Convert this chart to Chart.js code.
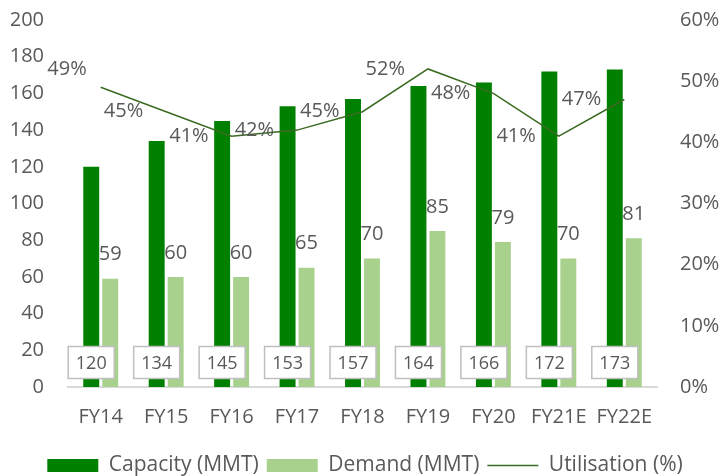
<!DOCTYPE html>
<html>
<head>
<meta charset="utf-8">
<script src="https://cdn.jsdelivr.net/npm/chart.js@4/dist/chart.umd.min.js"></script>
<style>
  html, body { margin: 0; padding: 0; background: #fff; }
  #wrap { width: 719px; height: 476px; }
</style>
</head>
<body>
<div id="wrap"><canvas id="chart"></canvas></div>
<script>
// --- DATA ---
const categories = ['FY14', 'FY15', 'FY16', 'FY17', 'FY18', 'FY19', 'FY20', 'FY21E', 'FY22E'];
const capacity = [120, 134, 145, 153, 157, 164, 166, 172, 173];
const demand = [59, 60, 60, 65, 70, 85, 79, 70, 81];
const utilisation = [49, 45, 41, 42, 45, 52, 48, 41, 47];

const mmtTicks = { min: 0, max: 200, step: 20 };
const pctTicks = { min: 0, max: 60, step: 10 };

const textGrey = '#595959';
const fontFamily = '"Open Sans", sans-serif';

// Labels: boxed capacity values near the axis, demand above bars, utilisation left of points
const valueLabels = {
    id: 'valueLabels',
    afterDatasetsDraw(chart) {
        const ctx = chart.ctx;
        const base = chart.scales.y.getPixelForValue(0);
        ctx.save();
        ctx.textBaseline = 'middle';

        // demand
        ctx.fillStyle = textGrey;
        ctx.font = '20px ' + fontFamily;
        ctx.textAlign = 'center';
        chart.getDatasetMeta(1).data.forEach((bar, i) => {
            ctx.fillText(demand[i], bar.x, bar.y - 24);
        });

        // utilisation
        ctx.textAlign = 'right';
        chart.getDatasetMeta(2).data.forEach((pt, i) => {
            const lift = i === 0 ? 18 : 0;
            const shift = i === 0 ? 14 : 23;
            ctx.fillText(utilisation[i] + '%', pt.x - shift, pt.y - lift);
        });

        // capacity boxes
        ctx.font = '18px ' + fontFamily;
        ctx.textAlign = 'center';
        chart.getDatasetMeta(0).data.forEach((bar, i) => {
            const cy = base - 24.5;
            ctx.fillStyle = '#fff';
            ctx.strokeStyle = '#bfbfbf';
            ctx.lineWidth = 1.5;
            ctx.fillRect(bar.x - 23, cy - 16, 46, 32);
            ctx.strokeRect(bar.x - 23, cy - 16, 46, 32);
            ctx.fillStyle = textGrey;
            ctx.fillText(capacity[i], bar.x, cy + 1);
        });
        ctx.restore();
    }
};

// fixed axis widths; drop the extra top/bottom room Chart.js reserves for tick labels
const fitAxis = width => s => {
    s.width = width;
    s.paddingTop = 0;
    s.paddingBottom = 0;
};

new Chart(document.getElementById('chart'), {
    type: 'bar',
    data: {
        labels: categories,
        datasets: [
            {
                label: 'Capacity (MMT)',
                data: capacity,
                backgroundColor: '#008000',
                barPercentage: 0.84,
                categoryPercentage: 0.58,
                yAxisID: 'y'
            },
            {
                label: 'Demand (MMT)',
                data: demand,
                backgroundColor: '#a9d18e',
                barPercentage: 0.84,
                categoryPercentage: 0.58,
                yAxisID: 'y'
            },
            {
                type: 'line',
                label: 'Utilisation (%)',
                data: utilisation,
                borderColor: '#3b6b22',
                borderWidth: 1.5,
                pointRadius: 0,
                tension: 0,
                fill: false,
                order: -1,
                yAxisID: 'y1'
            }
        ]
    },
    options: {
        responsive: true,
        maintainAspectRatio: false,
        animation: false,
        layout: { padding: { top: 20, left: 11, right: 0, bottom: -10 } },
        plugins: {
            tooltip: { enabled: false },
            legend: {
                position: 'bottom',
                labels: {
                    color: textGrey,
                    font: { family: fontFamily, size: 21 },
                    usePointStyle: true,
                    pointStyleWidth: 51,
                    boxHeight: 13,
                    padding: 8,
                    generateLabels(chart) {
                        const items = Chart.defaults.plugins.legend.labels.generateLabels(chart);
                        return items
                            .sort((a, b) => a.datasetIndex - b.datasetIndex)
                            .map(it => ({ ...it, pointStyle: it.datasetIndex === 2 ? 'line' : 'rect' }));
                    }
                }
            }
        },
        scales: {
            x: {
                grid: { display: false, drawTicks: false },
                border: { display: true, color: '#d9d9d9', width: 2 },
                ticks: { color: textGrey, font: { family: fontFamily, size: 20 }, padding: 18 },
                afterFit: s => { s.height = 60; }
            },
            y: {
                position: 'left',
                min: mmtTicks.min,
                max: mmtTicks.max,
                grid: { display: false, drawTicks: false },
                border: { display: false },
                ticks: { stepSize: mmtTicks.step, color: textGrey, font: { family: fontFamily, size: 20 }, padding: 24 },
                afterFit: fitAxis(57)
            },
            y1: {
                position: 'right',
                min: pctTicks.min,
                max: pctTicks.max,
                grid: { display: false, drawTicks: false },
                border: { display: false },
                ticks: {
                    stepSize: pctTicks.step,
                    color: textGrey,
                    font: { family: fontFamily, size: 20 },
                    padding: 23,
                    callback: v => v + '%'
                },
                afterFit: fitAxis(62)
            }
        }
    },
    plugins: [valueLabels]
});
</script>
</body>
</html>
